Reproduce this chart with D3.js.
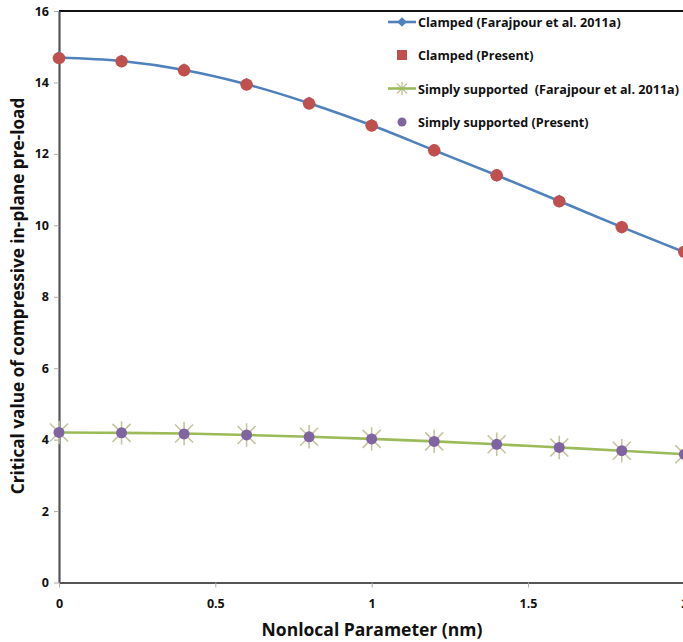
<!DOCTYPE html>
<html><head><meta charset="utf-8">
<script src="https://cdn.jsdelivr.net/npm/d3@7"></script>
<style>body{margin:0;background:#fff;overflow:hidden}svg{display:block;font-family:"Open Sans",Lato,sans-serif;font-weight:bold}.leg{white-space:pre}</style>
</head><body>
<script>
const xValues = [0, 0.2, 0.4, 0.6, 0.8, 1.0, 1.2, 1.4, 1.6, 1.8, 2.0];
const clampedRef = [14.70, 14.60, 14.35, 13.95, 13.42, 12.80, 12.10, 11.40, 10.68, 9.95, 9.25];
const clampedPresent = [14.68, 14.59, 14.34, 13.94, 13.41, 12.79, 12.10, 11.40, 10.67, 9.95, 9.26];
const ssRef = [4.20, 4.19, 4.17, 4.13, 4.08, 4.02, 3.95, 3.87, 3.78, 3.69, 3.59];
const ssPresent = [4.20, 4.19, 4.16, 4.13, 4.08, 4.02, 3.95, 3.87, 3.78, 3.69, 3.59];
const xTicks = [0, 0.5, 1, 1.5, 2];
const yTicks = [0, 2, 4, 6, 8, 10, 12, 14, 16];
const legendLabels = ["Clamped (Farajpour et al. 2011a)", "Clamped (Present)", "Simply supported  (Farajpour et al. 2011a)", "Simply supported (Present)"];

const W = 683, H = 642;
const svg = d3.select("body").append("svg").attr("width", W).attr("height", H);
const x = d3.scaleLinear().domain([0, 2]).range([59, 684.3]);
const y = d3.scaleLinear().domain([0, 16]).range([582.5, 11]);

const blue = "#4F81BD", red = "#C0504D", green = "#9BBB59", purple = "#8064A2", star = "#C4C49E";

// top border
svg.append("line").attr("x1", x(0)).attr("x2", W).attr("y1", y(16)).attr("y2", y(16)).attr("stroke", "#111").attr("stroke-width", 2);

// axes
const yAxis = d3.axisLeft(y).tickValues(yTicks).tickFormat(d3.format("d")).tickSize(5).tickSizeOuter(0);
const gy = svg.append("g").attr("transform", `translate(${x(0)},0)`).call(yAxis);
gy.select(".domain").attr("stroke", "#555").attr("stroke-width", 2.2);
gy.selectAll(".tick line").attr("stroke", "#aaa");
gy.selectAll(".tick text").attr("font-size", 12.5).attr("font-weight", "bold").attr("fill", "#111").attr("x", -10).attr("font-family", "Open Sans");

const xAxis = d3.axisBottom(x).tickValues(xTicks).tickFormat(d => d).tickSize(5).tickSizeOuter(0);
const gx = svg.append("g").attr("transform", `translate(0,${y(0)})`).call(xAxis);
gx.select(".domain").attr("stroke", "#555").attr("stroke-width", 2.2);
gx.selectAll(".tick line").attr("stroke", "#aaa");
gx.selectAll(".tick text").attr("font-size", 12.5).attr("font-weight", "bold").attr("fill", "#111").attr("y", 17).attr("font-family", "Open Sans");

// axis titles
svg.append("text").attr("x", 372).attr("y", 636).attr("text-anchor", "middle").attr("font-size", 17.5).attr("fill", "#111").text("Nonlocal Parameter (nm)");
svg.append("text").attr("transform", `translate(24,296) rotate(-90)`).attr("text-anchor", "middle").attr("font-size", 17.2).attr("fill", "#111").text("Critical value of compressive in-plane pre-load");

const line = d3.line().x(d => x(d[0])).y(d => y(d[1])).curve(d3.curveMonotoneX);
const pts = vals => xValues.map((v, i) => [v, vals[i]]);

// clamped reference line + diamonds
svg.append("path").datum(pts(clampedRef)).attr("d", line).attr("fill", "none").attr("stroke", blue).attr("stroke-width", 2.6);
svg.append("g").selectAll("path").data(pts(clampedRef)).join("path")
  .attr("transform", d => `translate(${x(d[0])},${y(d[1])})`)
  .attr("d", d3.symbol().type(d3.symbolDiamond2).size(110)).attr("fill", blue);
svg.append("g").selectAll("circle").data(pts(clampedPresent)).join("circle")
  .attr("cx", d => x(d[0])).attr("cy", d => y(d[1])).attr("r", 6.2).attr("fill", red);

// simply supported
const starPath = (s) => `M${-s},${-s}L${s},${s}M${-s},${s}L${s},${-s}M0,${-s*1.3}L0,${s*1.3}`;
svg.append("g").selectAll("path").data(pts(ssRef)).join("path")
  .attr("transform", d => `translate(${x(d[0])},${y(d[1])})`)
  .attr("d", starPath(9)).attr("stroke", star).attr("stroke-width", 1.6).attr("fill", "none");
svg.append("path").datum(pts(ssRef)).attr("d", line).attr("fill", "none").attr("stroke", green).attr("stroke-width", 2.6);
svg.append("g").selectAll("circle").data(pts(ssPresent)).join("circle")
  .attr("cx", d => x(d[0])).attr("cy", d => y(d[1])).attr("r", 5.5).attr("fill", purple);

// legend
const legY = [22, 55, 88.5, 122];
const lg = svg.append("g");
legendLabels.forEach((t, i) => {
  const yy = legY[i];
  lg.append("text").attr("class", "leg").attr("x", 418).attr("y", yy + 5).attr("font-size", 12.6).attr("fill", "#111").text(t);
});
// legend markers
lg.append("line").attr("x1", 388).attr("x2", 416).attr("y1", legY[0]).attr("y2", legY[0]).attr("stroke", blue).attr("stroke-width", 2.6);
lg.append("path").attr("transform", `translate(402,${legY[0]})`).attr("d", d3.symbol().type(d3.symbolDiamond2).size(60)).attr("fill", blue);
lg.append("rect").attr("x", 397).attr("y", legY[1] - 5).attr("width", 10).attr("height", 10).attr("fill", red);
lg.append("path").attr("transform", `translate(402,${legY[2]})`).attr("d", starPath(5)).attr("stroke", star).attr("stroke-width", 1.4).attr("fill", "none");
lg.append("line").attr("x1", 388).attr("x2", 416).attr("y1", legY[2]).attr("y2", legY[2]).attr("stroke", green).attr("stroke-width", 2.6);
lg.append("circle").attr("cx", 402).attr("cy", legY[3]).attr("r", 4.5).attr("fill", purple);
</script>
</body></html>
